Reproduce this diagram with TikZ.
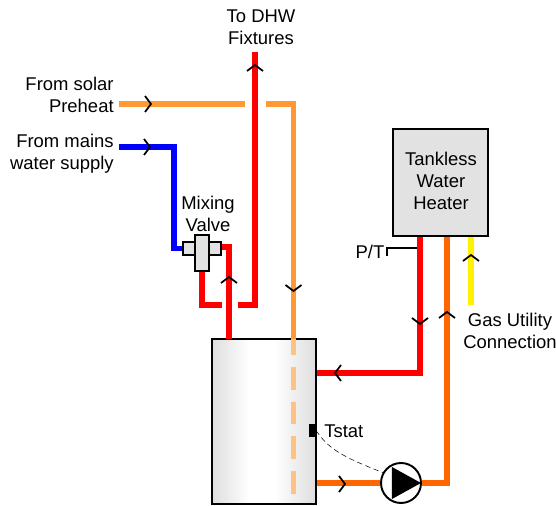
\documentclass[tikz,border=0pt]{standalone}
\usepackage{fontspec}
\setmainfont{Liberation Sans}
\usetikzlibrary{positioning,calc}
\pgfdeclarehorizontalshading{tankshade}{100bp}{color(0bp)=(black!13); color(25bp)=(black!13); color(43bp)=(white); color(55bp)=(white); color(75bp)=(black!13); color(100bp)=(black!13)}
\definecolor{solar}{HTML}{FF9933}
\definecolor{burner}{HTML}{FF6600}
\definecolor{box}{HTML}{E2E2E2}

\begin{document}
\begin{tikzpicture}
                    [x=0.02cm,y=-0.02cm,
                    txt/.style={align=center,font=\fontsize{10.5}{12.5}\selectfont,inner sep=0pt},
                    pipe/.style={line width=3.2pt},
                    frame/.style={draw=black,line width=1.1pt,inner sep=0pt},
                    chevron/.pic={\draw[line width=1pt] (-6,-8) -- (0,0) -- (-6,8);}]

                    \useasboundingbox (0,0) rectangle (556,506);

                    \node[frame,shading=tankshade,minimum width=2.08cm,minimum height=3.3cm] (tank) at (264,421.5) {};
                    \node[frame,fill=box,minimum width=1.9cm,minimum height=2.14cm] (heater) at (440.5,182.5) {};
                    \node[frame,circle,fill=white,minimum size=0.8cm] (pump) at (401,483) {};
                    \fill (392,467) -- (421,483) -- (392,499) -- cycle;

                    \coordinate (solarIn) at (119,104);
                    \coordinate (solarGapL) at (245,104);
                    \coordinate (solarGapR) at (266,104);
                    \coordinate (solarKnee) at (293.5,104);
                    \coordinate (solarTank) at (293.5,339);
                    \coordinate (mainsIn) at (119,147);
                    \coordinate (mainsKnee) at (174,147);
                    \coordinate (hotTop) at (255,52);
                    \coordinate (hotKnee) at (255,305);
                    \coordinate (hotGapR) at (238,305);
                    \coordinate (hotGapL) at (222,305);
                    \coordinate (mixKnee) at (202,305);
                    \coordinate (tankOut) at (229,339);
                    \coordinate (tankOutKnee) at (229,247);
                    \coordinate (retKnee) at (420,373);
                    \coordinate (loopKnee) at (447,483);
                    \coordinate (gasEnd) at (471,305);
                    \coordinate (ptStart) at (417,248);
                    \coordinate (ptKnee) at (387,248);
                    \coordinate (ptEnd) at (387,256);

                    \node[frame,fill=box,minimum width=0.76cm,minimum height=0.26cm] (valveH) at (202,248.5) {};
                    \node[frame,fill=box,minimum width=0.28cm,minimum height=0.72cm] (valveV) at (202,253) {};

                    \draw[pipe,solar] (solarIn) -- (solarGapL);
                    \draw[pipe,solar] (solarGapR) -- (solarKnee) -- (solarTank);
                    \draw[pipe,blue] (mainsIn) -- (mainsKnee) |- (valveH.west);
                    \draw[pipe,red] (hotTop) -- (hotKnee) -- (hotGapR);
                    \draw[pipe,red] (hotGapL) -- (mixKnee) -- (valveV.south -| mixKnee);
                    \draw[pipe,red] (tankOut) -- (tankOutKnee) -- (valveH.east |- tankOutKnee);
                    \draw[pipe,red] (heater.south -| retKnee) -- (retKnee) -- (tank.east |- retKnee);
                    \draw[pipe,burner] (heater.south -| loopKnee) -- (loopKnee) -- (pump.east);
                    \draw[pipe,burner] (tank.east |- pump) -- (pump.west);
                    \draw[pipe,yellow] (heater.south -| gasEnd) -- (gasEnd);
                    \draw[line width=1.1pt] (ptStart) -- (ptKnee) -- (ptEnd);

                    \draw[solar!60,line width=3.2pt,dash pattern=on 13pt off 6.8pt,dash phase=4pt] (solarTank) -- (293.5,495);

                    \node[fill=black,minimum width=0.13cm,minimum height=0.26cm,inner sep=0pt] (tstat) at (312.5,430.5) {};
                    \draw[densely dashed,line width=0.3pt] (tstat.east) .. controls (328,448) and (340,456) .. (pump.150);

                    \pic at (151,104) {chevron};
                    \pic at (150,147) {chevron};
                    \pic[rotate=90] at (255,65) {chevron};
                    \pic[rotate=90] at (229,277) {chevron};
                    \pic[rotate=-90] at (293.5,291) {chevron};
                    \pic[rotate=180] at (335,373) {chevron};
                    \pic at (345,484) {chevron};
                    \pic[rotate=-90] at (420,324) {chevron};
                    \pic[rotate=90] at (447,312) {chevron};
                    \pic[rotate=90] at (471,255) {chevron};

                    \node[txt] (heaterText) at (441,180.5) {Tankless\\Water\\Heater};
                    \node[txt] (fixtures) at (261,27) {To DHW\\Fixtures};
                    \node[txt,align=right,anchor=east] (solarText) at (114,95) {From solar\\Preheat};
                    \node[txt,align=right,anchor=east] (mainsText) at (114,154) {From mains\\water supply};
                    \node[txt] (valveText) at (208,214) {Mixing\\Valve};
                    \node[txt] (ptText) at (370,252) {P/T};
                    \node[txt] (gasText) at (510,331) {Gas Utility\\Connection};
                    \node[txt,anchor=west] (tstatText) at (324,431) {Tstat};

                \end{tikzpicture}
\end{document}
